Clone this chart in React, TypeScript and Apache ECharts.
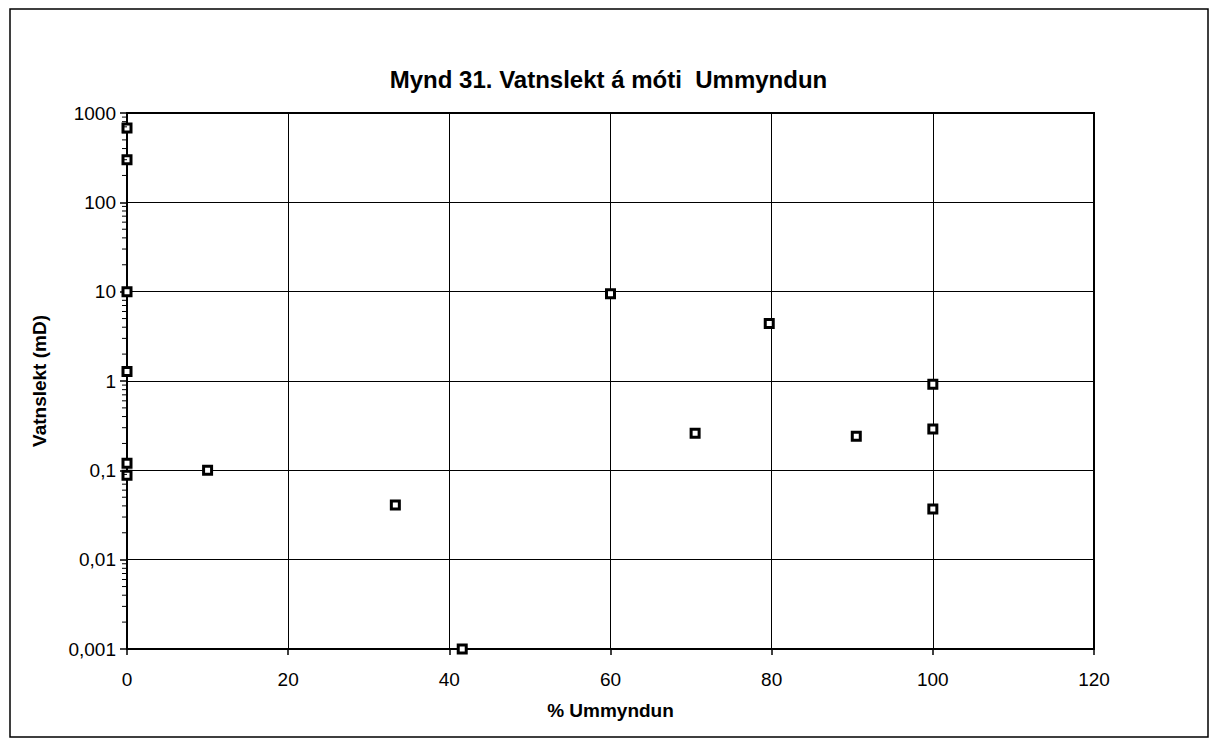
import React, { useEffect, useRef } from "react";
import * as echarts from "echarts";

const titleText = "Mynd 31. Vatnslekt á móti  Ummyndun";
const xAxisName = "% Ummyndun";
const yAxisName = "Vatnslekt (mD)";

// % Ummyndun (alteration) values
const ummyndun = [0, 0, 0, 0, 0, 0, 10, 33.3, 41.6, 60, 70.5, 79.7, 90.5, 100, 100, 100];
// Vatnslekt (mD) values
const vatnslekt = [680, 300, 10, 1.28, 0.12, 0.088, 0.1, 0.041, 0.001, 9.5, 0.26, 4.4, 0.24, 0.92, 0.29, 0.037];

const yTickLabels = ["0,001", "0,01", "0,1", "1", "10", "100", "1000"];
const xTickLabels = ["0", "20", "40", "60", "80", "100", "120"];

// minor tick positions on the log axis (2..9 per decade)
const minorDecades = [0.001, 0.01, 0.1, 1, 10, 100];
const minorMultipliers = [2, 3, 4, 5, 6, 7, 8, 9];

const FONT = "'Liberation Sans', Arial, sans-serif";

export default function App() {
  const ref = useRef<HTMLDivElement>(null);
  useEffect(() => {
    document.body.style.margin = "0";
    if (!ref.current) return;
    const chart = echarts.init(ref.current, null, { renderer: "svg" });
    chart.setOption({
      animation: false,
      backgroundColor: "#fff",
      title: {
        text: titleText,
        left: "center",
        top: 62,
        textStyle: { fontFamily: FONT, fontSize: 24, fontWeight: "bold", color: "#000" },
      },
      grid: {
        left: 127,
        right: 123,
        top: 113,
        bottom: 95,
        show: true,
        borderColor: "#000",
        borderWidth: 2,
      },
      xAxis: {
        type: "value",
        min: 0,
        max: 120,
        interval: 20,
        name: xAxisName,
        nameLocation: "middle",
        nameGap: 52,
        nameTextStyle: { fontFamily: FONT, fontSize: 19, fontWeight: "bold", color: "#000" },
        axisLine: { show: true, lineStyle: { color: "#000", width: 2 } },
        axisTick: { show: true, inside: false, length: 6, lineStyle: { color: "#000", width: 1.5 } },
        axisLabel: {
          fontFamily: FONT,
          fontSize: 19,
          color: "#000",
          margin: 21,
          formatter: (v: number) => xTickLabels[Math.round(v / 20)] ?? String(v),
        },
        splitLine: { show: true, lineStyle: { color: "#000", width: 1 } },
      },
      yAxis: {
        type: "log",
        logBase: 10,
        min: 0.001,
        max: 1000,
        name: yAxisName,
        nameLocation: "middle",
        nameGap: 78,
        nameTextStyle: { fontFamily: FONT, fontSize: 19, fontWeight: "bold", color: "#000" },
        axisLine: { show: true, lineStyle: { color: "#000", width: 2 } },
        axisTick: { show: true, inside: false, length: 7, lineStyle: { color: "#000", width: 1.5 } },
        axisLabel: {
          fontFamily: FONT,
          fontSize: 19,
          color: "#000",
          margin: 11,
          formatter: (v: number) => yTickLabels[Math.round(Math.log10(v)) + 3] ?? String(v),
        },
        splitLine: { show: true, lineStyle: { color: "#000", width: 1 } },
      },
      series: [
        {
          type: "scatter",
          clip: false,
          symbol: "rect",
          symbolSize: 8,
          itemStyle: { color: "#fff", borderColor: "#000", borderWidth: 3, opacity: 1 },
          data: ummyndun.map((x, i) => [x, vatnslekt[i]]),
          z: 5,
        },
      ],
    });

    // Minor ticks on the log axis, positioned through the chart's own scale
    const graphics: any[] = [
      {
        type: "rect",
        shape: { x: 10, y: 9, width: 1198, height: 728 },
        style: { fill: "none", stroke: "#000", lineWidth: 1.5 },
        silent: true,
      },
    ];
    minorDecades.forEach((d) =>
      minorMultipliers.forEach((m) => {
        const p = chart.convertToPixel({ gridIndex: 0 }, [0, d * m]) as number[];
        if (p && isFinite(p[0]) && isFinite(p[1])) {
          graphics.push({
            type: "line",
            silent: true,
            z: 10,
            shape: { x1: p[0] - 5, y1: p[1], x2: p[0], y2: p[1] },
            style: { stroke: "#000", lineWidth: 1 },
          });
        }
      })
    );
    chart.setOption({ graphic: graphics });

    return () => chart.dispose();
  }, []);
  return <div ref={ref} style={{ width: 1217, height: 744 }} />;
}
